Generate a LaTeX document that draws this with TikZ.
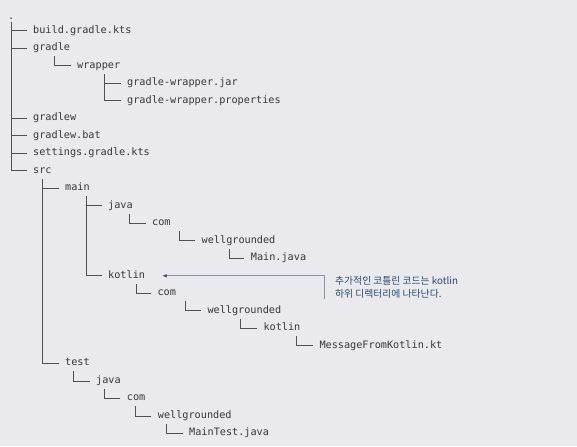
\documentclass[tikz,border=0pt]{standalone}
\usepackage{fontspec}
\usetikzlibrary{arrows.meta}
\newfontfamily\treefont{DejaVu Sans Mono}
\newfontfamily\notefont{Noto Sans CJK KR}
\definecolor{bgpaper}{HTML}{E9E9EE}
\definecolor{treetext}{HTML}{383838}
\definecolor{treeline}{HTML}{505050}
\definecolor{notetext}{HTML}{2D4A6B}
\definecolor{noteline}{HTML}{8392AA}

\begin{document}
\begin{tikzpicture}
[
	x=1pt,
	y=-17.52pt,
	entry/.style={anchor=west,inner sep=0pt,text height=7.4pt,text depth=2.4pt,
		font=\treefont\fontsize{10.2}{12}\selectfont,text=treetext},
	branch/.style={treeline,line width=0.8pt},
	note/.style={anchor=west,align=left,inner sep=0pt,
		font=\notefont\fontsize{9.8}{13}\selectfont,text=notetext},
	pointer/.style={noteline,line width=0.7pt,-{Latex[length=4.5pt,width=3.6pt,color=notetext]}}
]

	% paper
	\useasboundingbox[fill=bgpaper] (0,-0.742) rectangle (577,24.715);

	% entries, one per row
	\node[entry] (root) at (8,0.2) {.};
	\node[entry] (build) at (33,1) {build.gradle.kts};
	\node[entry] (gradle) at (33,2) {gradle};
	\node[entry] (wrapper) at (77,3) {wrapper};
	\node[entry] (gwjar) at (127,4) {gradle-wrapper.jar};
	\node[entry] (gwprops) at (127,5) {gradle-wrapper.properties};
	\node[entry] (gradlew) at (33,6) {gradlew};
	\node[entry] (gradlewbat) at (33,7) {gradlew.bat};
	\node[entry] (settings) at (33,8) {settings.gradle.kts};
	\node[entry] (src) at (33,9) {src};
	\node[entry] (main) at (65,10) {main};
	\node[entry] (mainjava) at (108,11) {java};
	\node[entry] (mainjavacom) at (152,12) {com};
	\node[entry] (mainwg) at (201.5,13) {wellgrounded};
	\node[entry] (mainfile) at (250.7,14) {Main.java};
	\node[entry] (kotlin) at (108,15) {kotlin};
	\node[entry] (kotlincom) at (157.3,16) {com};
	\node[entry] (kotlinwg) at (207.3,17) {wellgrounded};
	\node[entry] (kotlinpkg) at (263.3,18) {kotlin};
	\node[entry] (ktfile) at (319.3,19) {MessageFromKotlin.kt};
	\node[entry] (test) at (65,20) {test};
	\node[entry] (testjava) at (96,21) {java};
	\node[entry] (testcom) at (126.7,22) {com};
	\node[entry] (testwg) at (157.7,23) {wellgrounded};
	\node[entry] (testfile) at (189,24) {MainTest.java};

	% tree lines
	\draw[branch]
	  ([xshift=3.5pt,yshift=-5pt]root.west) |- ([xshift=-6.5pt]build.west)
	  ([xshift=3.5pt,yshift=-5pt]root.west) |- ([xshift=-6.5pt]gradle.west)
	  ([xshift=3.5pt,yshift=-5pt]root.west) |- ([xshift=-6.5pt]gradlew.west)
	  ([xshift=3.5pt,yshift=-5pt]root.west) |- ([xshift=-6.5pt]gradlewbat.west)
	  ([xshift=3.5pt,yshift=-5pt]root.west) |- ([xshift=-6.5pt]settings.west)
	  ([xshift=3.5pt,yshift=-5pt]root.west) |- ([xshift=-6.5pt]src.west)
	;
	\draw[branch] ([xshift=21.5pt,yshift=-8pt]gradle.west) |- ([xshift=-6.5pt]wrapper.west);
	\draw[branch]
	  ([xshift=27.5pt,yshift=-8pt]wrapper.west) |- ([xshift=-6.5pt]gwjar.west)
	  ([xshift=27.5pt,yshift=-8pt]wrapper.west) |- ([xshift=-6.5pt]gwprops.west)
	;
	\draw[branch]
	  ([xshift=9.7pt,yshift=-8pt]src.west) |- ([xshift=-6.5pt]main.west)
	  ([xshift=9.7pt,yshift=-8pt]src.west) |- ([xshift=-6.5pt]test.west)
	;
	\draw[branch]
	  ([xshift=21pt,yshift=-8pt]main.west) |- ([xshift=-6.5pt]mainjava.west)
	  ([xshift=21pt,yshift=-8pt]main.west) |- ([xshift=-6.5pt]kotlin.west)
	;
	\draw[branch] ([xshift=21.5pt,yshift=-8pt]mainjava.west) |- ([xshift=-6.5pt]mainjavacom.west);
	\draw[branch] ([xshift=27.5pt,yshift=-8pt]mainjavacom.west) |- ([xshift=-6.5pt]mainwg.west);
	\draw[branch] ([xshift=27.8pt,yshift=-8pt]mainwg.west) |- ([xshift=-6.5pt]mainfile.west);
	\draw[branch] ([xshift=28pt,yshift=-8pt]kotlin.west) |- ([xshift=-6.5pt]kotlincom.west);
	\draw[branch] ([xshift=27.7pt,yshift=-8pt]kotlincom.west) |- ([xshift=-6.5pt]kotlinwg.west);
	\draw[branch] ([xshift=33.4pt,yshift=-8pt]kotlinwg.west) |- ([xshift=-6.5pt]kotlinpkg.west);
	\draw[branch] ([xshift=33.4pt,yshift=-8pt]kotlinpkg.west) |- ([xshift=-6.5pt]ktfile.west);
	\draw[branch] ([xshift=8.3pt,yshift=-8pt]test.west) |- ([xshift=-6.5pt]testjava.west);
	\draw[branch] ([xshift=8.3pt,yshift=-8pt]testjava.west) |- ([xshift=-6.5pt]testcom.west);
	\draw[branch] ([xshift=9pt,yshift=-8pt]testcom.west) |- ([xshift=-6.5pt]testwg.west);
	\draw[branch] ([xshift=9pt,yshift=-8pt]testwg.west) |- ([xshift=-6.5pt]testfile.west);

	% annotation
	\node[note] (note) at (335,15.668) {추가적인 코틀린 코드는 kotlin\\하위 디렉터리에 나타난다.};
	\draw[pointer] ([xshift=-11pt]note.south west) |- ([xshift=17pt]kotlin.east);

\end{tikzpicture}
\end{document}
